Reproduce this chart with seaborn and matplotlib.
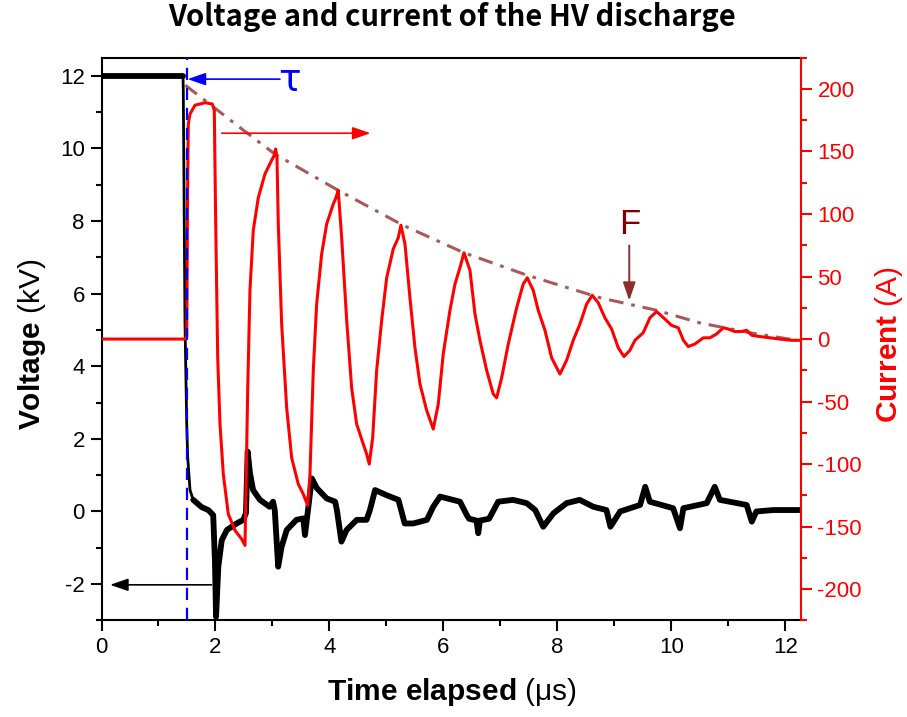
import numpy as np
import pandas as pd
import matplotlib
matplotlib.use('Agg')
import matplotlib.pyplot as plt
import seaborn as sns

# ---------------- data ----------------
volt_t = [0.0, 1.43, 1.435, 1.465, 1.495, 1.512, 1.553, 1.61, 1.758, 1.874, 1.96,
          1.99, 2.01, 2.05, 2.11, 2.20, 2.37, 2.49, 2.535, 2.565, 2.605, 2.66,
          2.78, 2.95, 3.01, 3.04, 3.10, 3.16, 3.25, 3.42, 3.54, 3.57, 3.63, 3.69,
          3.78, 3.95, 4.10, 4.13, 4.21, 4.30, 4.48, 4.65, 4.71, 4.80, 5.00, 5.21,
          5.32, 5.47, 5.71, 5.82, 5.94, 6.29, 6.41, 6.45, 6.58, 6.61, 6.64, 6.80,
          6.96, 7.22, 7.46, 7.61, 7.75, 7.93, 8.16, 8.39, 8.63, 8.86, 8.93, 9.10,
          9.45, 9.54, 9.62, 10.03, 10.15, 10.21, 10.62, 10.76, 10.85, 11.32,
          11.41, 11.49, 11.79, 12.25]
volt_kv = [12.0, 12.0, 11.6, 5.19, 2.44, 1.5, 0.59, 0.32, 0.12, 0.04, -0.1,
           -1.34, -2.9, -1.52, -0.79, -0.51, -0.33, -0.23, -0.04, 1.65, 1.06, 0.59,
           0.32, 0.13, 0.27, 0.04, -1.52, -0.97, -0.51, -0.23, -0.19, -0.65, 0.13, 0.91,
           0.64, 0.36, 0.27, 0.04, -0.83, -0.51, -0.23, -0.23, 0.04, 0.59, 0.45, 0.32,
           -0.33, -0.33, -0.23, 0.13, 0.41, 0.27, -0.1, -0.2, -0.25, -0.6, -0.25, -0.2,
           0.27, 0.32, 0.23, 0.04, -0.42, -0.05, 0.23, 0.32, 0.13, 0.04, -0.42, 0.0,
           0.18, 0.68, 0.27, 0.09, -0.46, 0.09, 0.23, 0.68, 0.32, 0.18,
           -0.28, 0.0, 0.04, 0.04]

curr_t = [0.0, 1.47, 1.495, 1.50, 1.509, 1.523, 1.553, 1.64, 1.816, 1.944, 1.979,
          2.004, 2.039, 2.079, 2.137, 2.225, 2.342, 2.46, 2.518, 2.535, 2.565,
          2.605, 2.663, 2.751, 2.868, 2.986, 3.032, 3.056, 3.079, 3.102, 3.161,
          3.249, 3.337, 3.453, 3.54, 3.618, 3.658, 3.716, 3.775, 3.863, 3.951,
          4.067, 4.114, 4.154, 4.214, 4.302, 4.389, 4.477, 4.593, 4.653, 4.698,
          4.758, 4.828, 4.916, 5.004, 5.119, 5.207, 5.254, 5.325, 5.412, 5.5,
          5.588, 5.705, 5.821, 5.909, 5.996, 6.114, 6.202, 6.289, 6.36, 6.465,
          6.553, 6.64, 6.758, 6.874, 6.933, 7.021, 7.137, 7.284, 7.4, 7.47,
          7.575, 7.663, 7.781, 7.898, 8.044, 8.161, 8.277, 8.395, 8.512, 8.61,
          8.716, 8.833, 8.951, 9.067, 9.167, 9.272, 9.36, 9.505, 9.623, 9.74,
          9.886, 10.0, 10.12, 10.21, 10.295, 10.41, 10.56, 10.675, 10.79, 10.91,
          11.0, 11.11, 11.23, 11.32, 11.41, 11.55, 11.73, 11.9, 12.11, 12.27]
curr_a = [0, 0, 2, 31, 111, 172, 180, 187, 189, 188, 183,
          92, -15, -68, -108, -140, -153, -160, -165, -121, -41,
          39, 87, 113, 132, 143, 147, 152, 145, 92, 12,
          -55, -95, -116, -124, -133, -108, -25, 28, 68, 92,
          108, 113, 119, 81, 15, -39, -68, -84, -92, -100,
          -79, -25, 15, 49, 72, 81, 91, 76, 33, -7,
          -36, -57, -72, -52, -12, 23, 44, 57, 69, 55,
          20, -1, -25, -44, -47, -31, -4, 25, 44, 49,
          39, 23, 7, -15, -28, -17, -1, 12, 28, 35,
          29, 17, 8, -7, -14, -9, -1, 5, 17, 22,
          16, 11, 9, -1, -6, -4, 1, 1, 4, 9,
          8, 6, 6, 7, 3, 2, 1, 0, -1, -1]

env_t = [1.47, 2.49, 3.04, 4.15, 5.29, 5.97, 6.36, 7.47, 8.75, 9.74, 10.49, 11.38, 12.2]
env_a = [203, 167, 148, 119, 91, 77, 69, 51, 33, 23, 13, 5, -1]

x_ticks = [0, 2, 4, 6, 8, 10, 12]
v_ticks = [-2, 0, 2, 4, 6, 8, 10, 12]
a_ticks = [-200, -150, -100, -50, 0, 50, 100, 150, 200]

# ---------------- style ----------------
sns.set_theme(style='ticks')
plt.rcParams['font.family'] = ['Liberation Sans', 'DejaVu Sans']
plt.rcParams['mathtext.fontset'] = 'custom'
plt.rcParams['mathtext.rm'] = 'Liberation Sans'
plt.rcParams['mathtext.bf'] = 'Liberation Sans:bold'
plt.rcParams['mathtext.it'] = 'Liberation Sans:italic'
for k in ('text.color', 'axes.labelcolor', 'xtick.color', 'ytick.color', 'axes.edgecolor'):
    plt.rcParams[k] = 'black'

W, H = 907, 717
fig = plt.figure(figsize=(W / 100, H / 100), dpi=100)
L, R, T, B = 101.5, 800.8, 57.7, 620.4
ax = fig.add_axes([L / W, 1 - B / H, (R - L) / W, (B - T) / H])
ax.set_facecolor('white')
ax2 = ax.twinx()

vdf = pd.DataFrame({'t': volt_t, 'v': volt_kv})
cdf = pd.DataFrame({'t': curr_t, 'a': curr_a})
edf = pd.DataFrame({'t': env_t, 'a': env_a})

# thin trace for the whole record, thick (noisy band look) for the flat parts
sns.lineplot(data=vdf, x='t', y='v', ax=ax, color='black', lw=2.0,
             estimator=None, sort=False, legend=False)
pre = vdf[vdf.t <= 1.43]
post = vdf[vdf.t >= 1.61]
for part in (pre, post):
    sns.lineplot(data=part, x='t', y='v', ax=ax, color='black', lw=4.2,
                 estimator=None, sort=False, legend=False)
sns.lineplot(data=edf, x='t', y='a', ax=ax2, color='#A85A5A', lw=2.2,
             estimator=None, sort=False, legend=False, linestyle=(0, (4.8, 2.6, 1.2, 2.6)))
sns.lineplot(data=cdf, x='t', y='a', ax=ax2, color='#FF0000', lw=2.2,
             estimator=None, sort=False, legend=False)

ax.set_xlim(0, 12.27)
ax.set_ylim(-3, 12.5)
ax2.set_ylim(-225, 225)

ax.set_xticks(x_ticks)
ax.set_xticks(np.arange(1, 12.5, 2), minor=True)
ax.set_yticks(v_ticks)
ax.set_yticks(np.arange(-3, 12.6, 2), minor=True)
ax2.set_yticks(a_ticks)
ax2.set_yticks(np.arange(-225, 226, 50), minor=True)

ax.set_xlabel('')
ax.set_ylabel('')
ax2.set_ylabel('')

for a in (ax, ax2):
    for s in a.spines.values():
        s.set_linewidth(1.5)
ax.spines['right'].set_visible(False)
for k in ('left', 'top', 'bottom'):
    ax.spines[k].set_color('black')
for k in ('left', 'top', 'bottom'):
    ax2.spines[k].set_visible(False)
ax2.spines['right'].set_color('#FF0000')

ax.tick_params(axis='both', which='major', direction='out', length=8, width=1.5,
               labelsize=16, colors='black', pad=4)
ax.tick_params(axis='both', which='minor', direction='out', length=4.5, width=1.5,
               colors='black')
ax.tick_params(top=False, right=False, which='both')
ax2.tick_params(axis='y', which='major', direction='out', length=8, width=1.5,
                labelsize=16, colors='#FF0000', pad=4)
ax2.tick_params(axis='y', which='minor', direction='out', length=4.5, width=1.5,
                colors='#FF0000')
ax.set_yticklabels([str(v) for v in v_ticks])
ax2.set_yticklabels([str(v) for v in a_ticks])

# ---------------- annotations ----------------
ax2.plot([1.5, 1.5], [-3, 12.5], transform=ax.transData, color='#0000FF', lw=1.6,
         linestyle=(0, (5.5, 3.5)), zorder=5)

def arrow(tip, tail, color, lw=1.2, hl=1.1, hw=0.38):
    ax2.annotate('', xy=tip, xytext=tail, xycoords=ax.transData, textcoords=ax.transData,
                 arrowprops=dict(arrowstyle=f'-|>,head_length={hl},head_width={hw}',
                                 color=color, lw=lw, shrinkA=0, shrinkB=0,
                                 mutation_scale=10), zorder=6)

arrow((1.51, 11.91), (3.13, 11.91), '#0000FF')
arrow((4.72, 10.42), (2.11, 10.42), '#FF0000')
arrow((0.15, -2.02), (1.93, -2.02), 'black')
ax2.text(3.29, 11.85, 'τ', transform=ax.transData, color='#0000FF', fontsize=27,
         ha='center', va='center', family=['DejaVu Sans'])

ax2.text(9.27, 91.6, 'F', color='#800000', fontsize=25, ha='center', va='center')
ax2.annotate('', xy=(9.26, 30.8), xytext=(9.26, 74.8),
             arrowprops=dict(arrowstyle='-|>,head_length=1.1,head_width=0.38',
                             color='#8B2E2E', lw=1.4, shrinkA=0, shrinkB=0,
                             mutation_scale=10), zorder=6)

# ---------------- labels ----------------
fig.text(452 / W, 1 - 17 / H, 'Voltage and current of the HV discharge',
         ha='center', va='center', fontsize=21, fontweight='bold', color='black',
         family=['Noto Sans CJK JP', 'DejaVu Sans'])
fig.text(32 / W, 1 - 344 / H, r'$\mathbf{Voltage}$ (kV)', rotation=90,
         ha='center', va='center', fontsize=21.5, color='black')
fig.text(889 / W, 1 - 345 / H, r'$\mathbf{Current}$ (A)', rotation=90,
         ha='center', va='center', fontsize=21.5, color='#FF0000')
fig.text(452 / W, 1 - 692 / H, r'$\mathbf{Time\ elapsed}$ (μs)',
         ha='center', va='center', fontsize=21.5, color='black')

fig.savefig('out.png', dpi=100, facecolor='white')
